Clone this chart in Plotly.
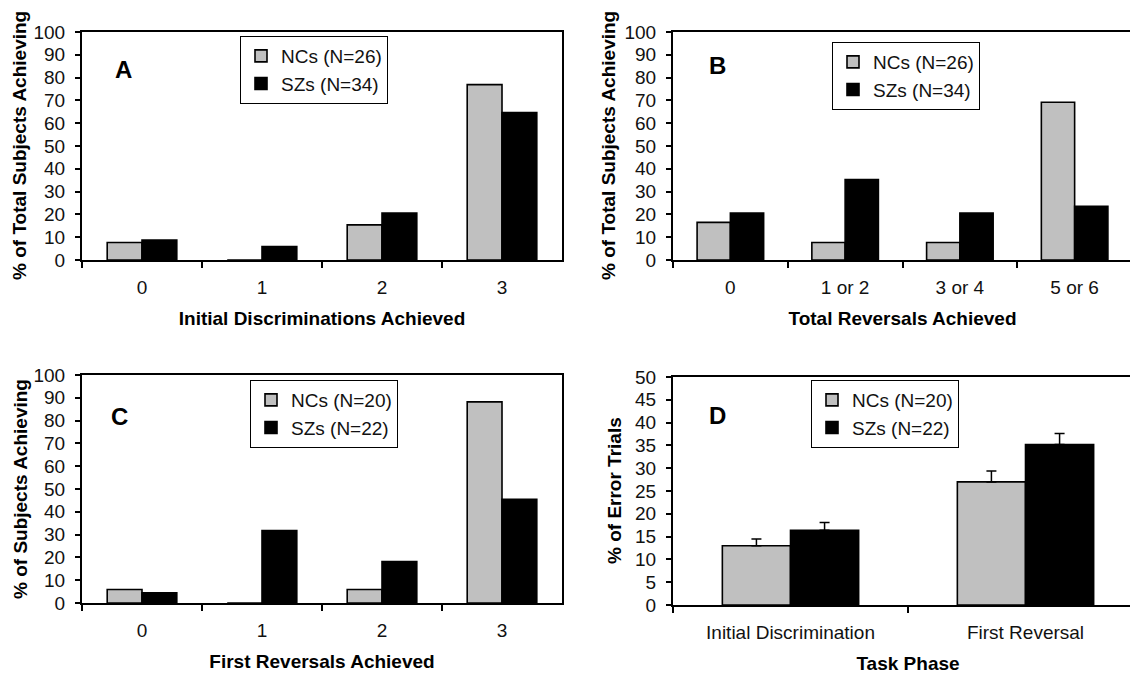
import plotly.graph_objects as go

# ---- data ----
cats_a = ["0", "1", "2", "3"]
nc_a = [7.7, 0.0, 15.4, 76.9]
sz_a = [8.8, 5.9, 20.6, 64.7]

cats_b = ["0", "1 or 2", "3 or 4", "5 or 6"]
nc_b = [16.5, 7.7, 7.7, 69.2]
sz_b = [20.6, 35.3, 20.6, 23.5]

cats_c = ["0", "1", "2", "3"]
nc_c = [5.9, 0.0, 5.9, 88.2]
sz_c = [4.5, 31.8, 18.2, 45.5]

cats_d = ["Initial Discrimination", "First Reversal"]
nc_d = [13.0, 27.0]
sz_d = [16.4, 35.2]
nc_d_err = [1.5, 2.4]
sz_d_err = [1.7, 2.4]

legend_ab = ["NCs (N=26)", "SZs (N=34)"]
legend_cd = ["NCs (N=20)", "SZs (N=22)"]

GRAY = "#c0c0c0"
BLACK = "#000000"
FONT = "Arial, 'Liberation Sans', Helvetica, sans-serif"
W, H = 1138, 674
OFF = 8  # page body margin: the figure starts 8 px inside the window

fig = go.Figure()

panels = [
    ("x", "y", "legend", cats_a, nc_a, sz_a, legend_ab, None, None),
    ("x2", "y2", "legend2", cats_b, nc_b, sz_b, legend_ab, None, None),
    ("x3", "y3", "legend3", cats_c, nc_c, sz_c, legend_cd, None, None),
    ("x4", "y4", "legend4", cats_d, nc_d, sz_d, legend_cd, nc_d_err, sz_d_err),
]

for xa, ya, lg, cats, nc, sz, names, nce, sze in panels:
    for vals, name, col, err in [(nc, names[0], GRAY, nce), (sz, names[1], BLACK, sze)]:
        kw = {}
        if err is not None:
            kw["error_y"] = dict(type="data", array=err, arrayminus=[0] * len(err),
                                 symmetric=False, color=BLACK, thickness=1.5, width=5)
        fig.add_trace(go.Bar(x=cats, y=vals, name=name, xaxis=xa, yaxis=ya, legend=lg,
                             marker=dict(color=col, line=dict(color=BLACK, width=1.6)),
                             **kw))

# positions given in window pixels
def px_x(p):
    return (p - OFF) / W

def px_y(p):
    return 1 - (p - OFF) / H

dom = {
    "A": ([82, 562], [32, 260]),
    "B": ([673, 1132], [32, 260]),
    "C": ([82, 562], [375, 603]),
    "D": ([673, 1143], [377, 605]),
}

def xdom(k):
    a, b = dom[k][0]
    return [px_x(a), px_x(b)]

def ydom(k):
    t, b = dom[k][1]
    return [px_y(b), px_y(t)]

tickfont = dict(family=FONT, size=19, color="#111111")
titlefont = dict(family=FONT, size=19, color=BLACK)

def xaxis(k, title, anchor, rng):
    return dict(domain=xdom(k), anchor=anchor, type="category", range=rng,
                showline=True, linecolor=BLACK, linewidth=2, mirror=True,
                ticks="outside", tickson="boundaries", ticklen=6, tickwidth=1.5,
                tickcolor=BLACK, tickfont=tickfont, ticklabelstandoff=9,
                showgrid=False, zeroline=False,
                title=dict(text="<b>" + title + "</b>", font=titlefont, standoff=15))

def yaxis(k, anchor, rng, dtick):
    return dict(domain=ydom(k), anchor=anchor, range=rng, dtick=dtick,
                showline=True, linecolor=BLACK, linewidth=2, mirror=True,
                ticks="outside", ticklen=5, tickwidth=1.5, tickcolor=BLACK,
                tickfont=tickfont, ticklabelstandoff=6,
                showgrid=False, zeroline=False)

def legend(x, y):
    return dict(x=px_x(x), y=px_y(y), xanchor="left", yanchor="top",
                bgcolor="white", bordercolor=BLACK, borderwidth=1,
                font=dict(family=FONT, size=19, color="#111111"),
                tracegroupgap=0, itemwidth=30)

fig.update_layout(
    width=W, height=H, margin=dict(l=0, r=0, t=0, b=0, autoexpand=False),
    paper_bgcolor="white", plot_bgcolor="white",
    barmode="group", bargap=0.42, bargroupgap=0,
    showlegend=True,
    xaxis=xaxis("A", "Initial Discriminations Achieved", "y", [-0.5, 3.5]),
    yaxis=yaxis("A", "x", [0, 100], 10),
    xaxis2=xaxis("B", "Total Reversals Achieved", "y2", [-0.5, 3.5]),
    yaxis2=yaxis("B", "x2", [0, 100], 10),
    xaxis3=xaxis("C", "First Reversals Achieved", "y3", [-0.5, 3.5]),
    yaxis3=yaxis("C", "x3", [0, 100], 10),
    xaxis4=xaxis("D", "Task Phase", "y4", [-0.5, 1.5]),
    yaxis4=yaxis("D", "x4", [0, 50], 5),
    legend=legend(240, 36),
    legend2=legend(832, 42),
    legend3=legend(250, 380),
    legend4=legend(811, 380),
)

# panel letters
for letter, x, y in [("A", 123, 70), ("B", 717, 66), ("C", 119, 416), ("D", 717, 415)]:
    fig.add_annotation(text="<b>" + letter + "</b>", x=px_x(x), y=px_y(y),
                       xref="paper", yref="paper", showarrow=False,
                       xanchor="center", yanchor="middle",
                       font=dict(family=FONT, size=24, color=BLACK))

# y-axis titles
for text, x, y in [("% of Total Subjects Achieving", 20, 146),
                   ("% of Total Subjects Achieving", 609, 146),
                   ("% of Subjects Achieving", 20, 489),
                   ("% of Error Trials", 614, 491)]:
    fig.add_annotation(text="<b>" + text + "</b>", x=px_x(x), y=px_y(y),
                       xref="paper", yref="paper", showarrow=False, textangle=-90,
                       xanchor="center", yanchor="middle",
                       font=titlefont)

fig.write_html("out.html")
